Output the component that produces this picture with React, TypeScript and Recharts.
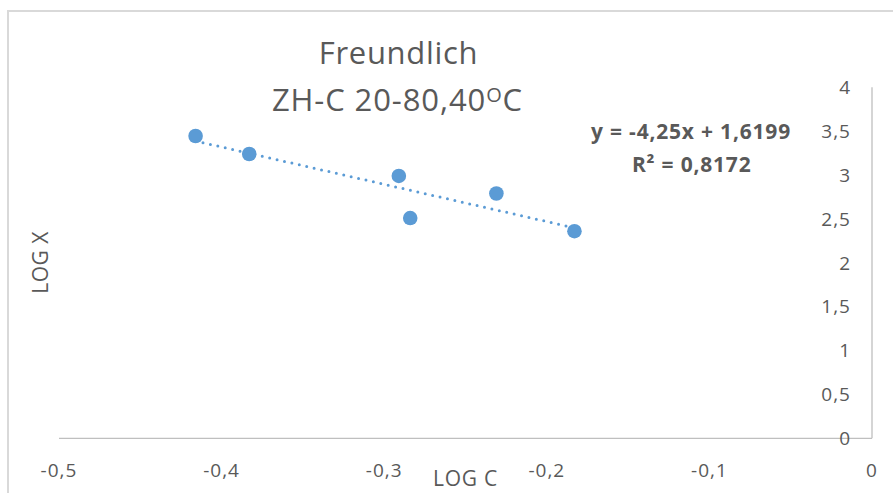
import React from 'react';
import { ScatterChart, Scatter, XAxis, YAxis, ReferenceLine } from 'recharts';

// LOG C (x) and LOG X (y) values
const logC = [-0.416, -0.383, -0.291, -0.284, -0.231, -0.183];
const logX = [3.445, 3.24, 2.99, 2.51, 2.79, 2.36];

const xTicks = [-0.5, -0.4, -0.3, -0.2, -0.1, 0];
const yTicks = [0, 0.5, 1, 1.5, 2, 2.5, 3, 3.5, 4];

// Trendline as printed on the chart
const SLOPE = -4.25;
const INTERCEPT = 1.6199;
const R2 = 0.8172;

const TITLE_1 = 'Freundlich';
const TITLE_2 = 'ZH-C 20-80,40';
const X_TITLE = 'LOG C';
const Y_TITLE = 'LOG X';

const BLUE = '#5B9BD5';
const TEXT = '#595959';
const AXIS = '#bfbfbf';
const FONT = "'Open Sans', sans-serif";

const comma = (v: number) => String(v).replace('.', ',');

const points = logC.map((x, i) => ({ x, y: logX[i] }));
const xMin = Math.min(...logC);
const xMax = Math.max(...logC);
const trend = [
  { x: xMin, y: SLOPE * xMin + INTERCEPT },
  { x: xMax, y: SLOPE * xMax + INTERCEPT },
];

const Dot = (props: any) => {
  const { cx, cy } = props;
  if (cx == null || cy == null) return null;
  return <circle cx={cx} cy={cy} r={7.3} fill={BLUE} />;
};

const tickStyle = { fill: TEXT, fontSize: 19, fontFamily: FONT, letterSpacing: 1 };

export default function App() {
  return (
    <div style={{ position: 'absolute', left: 0, top: 0, width: 893, height: 493, background: '#fff', overflow: 'hidden' }}>
      <div
        style={{
          position: 'absolute',
          left: 7,
          top: 10,
          width: 1000,
          height: 1000,
          borderLeft: '2px solid #d9d9d9',
          borderTop: '2px solid #d9d9d9',
          boxSizing: 'border-box',
        }}
      />
      <div style={{ position: 'absolute', left: 0, top: 0 }}>
        <ScatterChart
          width={893}
          height={493}
          margin={{ top: 87.3, right: 21, left: 59, bottom: 14.7 }}
        >
          <XAxis
            type="number"
            dataKey="x"
            domain={[-0.5, 0]}
            ticks={xTicks}
            tickFormatter={comma}
            tickSize={0}
            tickMargin={25.5}
            height={40}
            axisLine={{ stroke: AXIS, strokeWidth: 1.3 }}
            tick={tickStyle}
            allowDataOverflow
          />
          <YAxis
            type="number"
            dataKey="y"
            orientation="right"
            mirror
            domain={[0, 4]}
            ticks={yTicks}
            tickFormatter={comma}
            tickSize={0}
            tickMargin={21}
            width={60}
            axisLine={{ stroke: AXIS, strokeWidth: 1.3 }}
            tick={tickStyle}
            allowDataOverflow
          />
          <ReferenceLine
            segment={trend}
            stroke={BLUE}
            strokeWidth={3}
            strokeDasharray="0 7.6"
            strokeLinecap="round"
            ifOverflow="visible"
          />
          <Scatter data={points} shape={<Dot />} isAnimationActive={false} />
        </ScatterChart>
      </div>
      <svg width={893} height={493} style={{ position: 'absolute', left: 0, top: 0, pointerEvents: 'none' }}>
        <text x={398.5} y={64.3} textAnchor="middle" fontFamily={FONT} fontSize={31} letterSpacing={0.7} fill={TEXT}>
          {TITLE_1}
        </text>
        <text x={397.5} y={111} textAnchor="middle" fontFamily={FONT} fontSize={31} letterSpacing={0.9} fill={TEXT}>
          {TITLE_2}
          <tspan dy={-9.5} fontSize={20}>O</tspan>
          <tspan dy={9.5}>C</tspan>
        </text>
        <text x={691} y={139.3} textAnchor="middle" fontFamily={FONT} fontSize={21} letterSpacing={0.8} fontWeight="bold" fill={TEXT}>
          {`y = ${comma(SLOPE)}x + ${comma(INTERCEPT)}`}
        </text>
        <text x={691.7} y={171.7} textAnchor="middle" fontFamily={FONT} fontSize={21} letterSpacing={0.8} fontWeight="bold" fill={TEXT}>
          {`R² = ${comma(R2)}`}
        </text>
        <text x={465.5} y={486} textAnchor="middle" fontFamily={FONT} fontSize={21} letterSpacing={0.8} fill={TEXT}>
          {X_TITLE}
        </text>
        <text
          x={0}
          y={0}
          transform="translate(47.5 262.5) rotate(-90)"
          textAnchor="middle"
          fontFamily={FONT}
          fontSize={21}
          letterSpacing={0.5}
          fill={TEXT}
        >
          {Y_TITLE}
        </text>
      </svg>
    </div>
  );
}
